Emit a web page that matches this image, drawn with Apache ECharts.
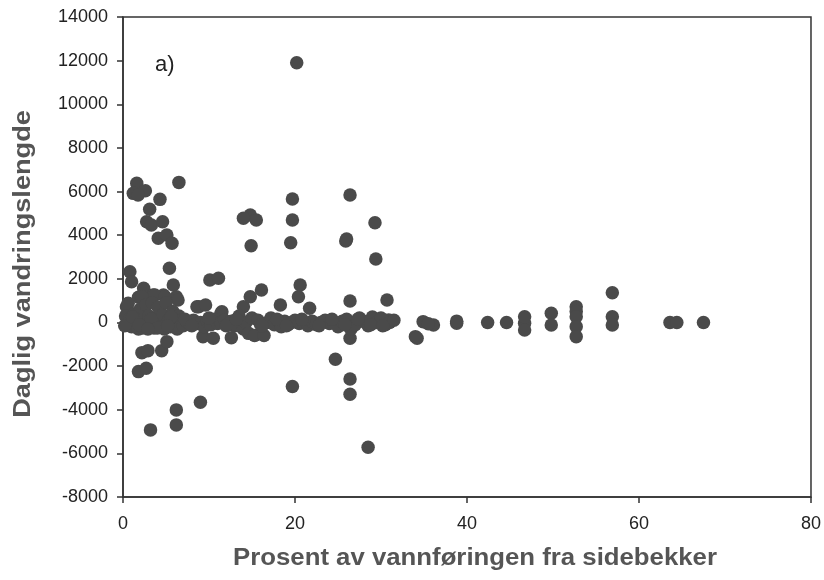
<!DOCTYPE html>
<html>
<head>
<meta charset="utf-8">
<script src="https://cdn.jsdelivr.net/npm/echarts@6/dist/echarts.min.js"></script>
<style>html,body{margin:0;padding:0;background:#fff;}#c{width:824px;height:580px;}</style>
</head>
<body>
<div id="c"></div>
<script>
// Percent of discharge from side streams (x)
var pctSide = [
  20.2,
  1.6,1.2,2.6,1.75,4.3,6.5,3.1,2.75,3.3,4.6,4.1,5.1,5.7,5.4,0.8,1.0,2.4,5.85,6.2,3.5,1.8,0.4,4.7,
  0.6,2.2,3.7,4.9,6.4,8.8,11.5,14.0,
  14.8,14.0,15.5,14.9,19.7,19.7,19.5,10.1,11.1,16.1,20.6,20.4,14.8,18.3,21.7,8.6,9.6,11.4,
  26.4,29.3,25.9,26.0,29.4,26.4,30.7,
  2.2,2.9,4.5,5.1,1.8,2.7,3.2,6.2,6.2,9.0,19.7,12.6,9.3,10.5,24.7,26.4,26.4,28.5,26.4,34.0,
  30.9,34.2,34.9,36.1,35.5,38.8,38.8,42.4,44.6,46.7,46.7,46.7,49.8,49.8,52.7,52.7,52.7,52.7,52.7,56.9,56.9,56.9,63.6,64.4,67.5,
  0.3,0.5,0.8,1.0,1.3,1.5,1.8,2.0,2.2,2.5,2.7,3.0,3.2,3.4,3.6,3.9,4.1,4.3,4.6,4.8,5.0,5.3,5.5,5.8,6.0,6.3,6.5,6.8,7.0,7.4,7.8,8.2,8.6,9.0,9.4,9.8,10.2,10.6,11.0,11.4,11.8,12.2,12.6,13.0,13.5,14.0,14.3,14.6,15.0,15.3,15.7,16.0,16.4,16.8,17.2,17.6,18.0,18.4,18.8,19.2,19.6,20.0,20.5,21.0,21.5,22.0,22.5,23.0,23.5,24.0,24.5,25.0,25.5,26.0,26.5,27.0,27.5,28.0,28.5,29.0,29.5,30.0,30.5,31.0,31.5,
  0.2,1.1,2.3,3.3,4.4,5.6,7.2,8.0,10.0,12.0,13.2,16.2,17.9,19.0,20.8,22.8,24.3,25.8,27.3,28.8,30.2,1.9,4.0,5.2,2.9
];
// Daily migration distance (y)
var dailyMigration = [
  11900,
  6375,5917,6036,5840,5642,6420,5185,4617,4466,4617,3856,4007,3627,2482,2327,1869,1566,1717,1182,1259,1154,724,1259,
  880,1180,1259,1180,1030,724,495,724,
  4924,4772,4695,3517,5656,4695,3655,1946,2024,1489,1717,1182,1182,801,650,724,801,421,
  5840,4571,3733,3820,2908,985,1030,
  -1383,-1292,-1292,-879,-2253,-2098,-4924,-4007,-4695,-3655,-2940,-696,-650,-724,-1686,-2588,-3288,-5716,-724,-650,
  115,-724,37,-115,-60,-37,60,0,0,-37,266,-343,421,-115,724,500,266,-192,-650,1365,266,-115,0,0,0,
  300,-100,150,-200,400,50,-300,600,100,-150,800,300,-50,900,-250,200,700,-100,350,-300,900,100,-200,500,0,-300,300,100,-150,50,-100,100,-50,0,-200,50,-100,150,-50,0,100,-100,50,-150,300,-300,0,-500,200,-600,100,-100,-600,0,200,-100,100,-200,50,-100,0,100,-50,0,-150,50,-100,0,100,-50,0,-200,50,150,-300,-100,200,50,-150,250,0,200,-100,0,100,
  -150,250,-250,150,-200,250,150,-150,200,-150,150,-150,150,-150,150,-150,150,-100,150,-100,-150,-100,-250,-150,-300
];
var yTicks = [-8000,-6000,-4000,-2000,0,2000,4000,6000,8000,10000,12000,14000];
var xTicks = [0,20,40,60,80];
var xTitle = 'Prosent av vannføringen fra sidebekker';
var yTitle = 'Daglig vandringslengde';
var panelLabel = 'a)';

var points = pctSide.map(function(x,i){return [x, dailyMigration[i]];});

var chart = echarts.init(document.getElementById('c'), null, {renderer:'canvas'});
var axisColor = '#333';
var titleFont = 'bold 23px "Liberation Sans", Arial';
chart.setOption({
  backgroundColor:'#ffffff',
  animation:false,
  grid:{left:123, right:13, top:17, bottom:83, show:true, borderColor:axisColor, borderWidth:1.5, backgroundColor:'transparent'},
  xAxis:{
    type:'value', min:xTicks[0], max:xTicks[xTicks.length-1], interval:20,
    axisLine:{show:true, onZero:false, lineStyle:{color:axisColor, width:1.5}},
    axisTick:{show:true, inside:false, length:6, lineStyle:{color:axisColor, width:1.5}},
    axisLabel:{fontFamily:'Liberation Sans, Arial', fontSize:18, color:'#222', margin:18,
      formatter:function(v){return String(v);}},
    splitLine:{show:false}
  },
  yAxis:{
    type:'value', min:yTicks[0], max:yTicks[yTicks.length-1], interval:2000,
    axisLine:{show:true, onZero:false, lineStyle:{color:axisColor, width:1.5}},
    axisTick:{show:true, inside:false, length:6, lineStyle:{color:axisColor, width:1.5}},
    axisLabel:{fontFamily:'Liberation Sans, Arial', fontSize:18, color:'#222', margin:15,
      formatter:function(v){return String(v);}},
    splitLine:{show:false}
  },
  graphic:[
    {type:'text', left:155, top:54, style:{text:panelLabel, font:'22px "Liberation Sans", Arial', fill:'#222'}},
    {type:'text', x:475, y:559, scaleX:1.12, style:{text:xTitle, font:titleFont, fill:'#555', align:'center', verticalAlign:'middle'}},
    {type:'text', x:24, y:264, rotation:Math.PI/2, scaleX:1.18, style:{text:yTitle, font:titleFont, fill:'#555', align:'center', verticalAlign:'middle'}}
  ],
  series:[{
    type:'scatter', data:points, symbol:'circle', symbolSize:13.5,
    itemStyle:{color:'#4a4a4a', opacity:1}
  }]
});
</script>
</body>
</html>
